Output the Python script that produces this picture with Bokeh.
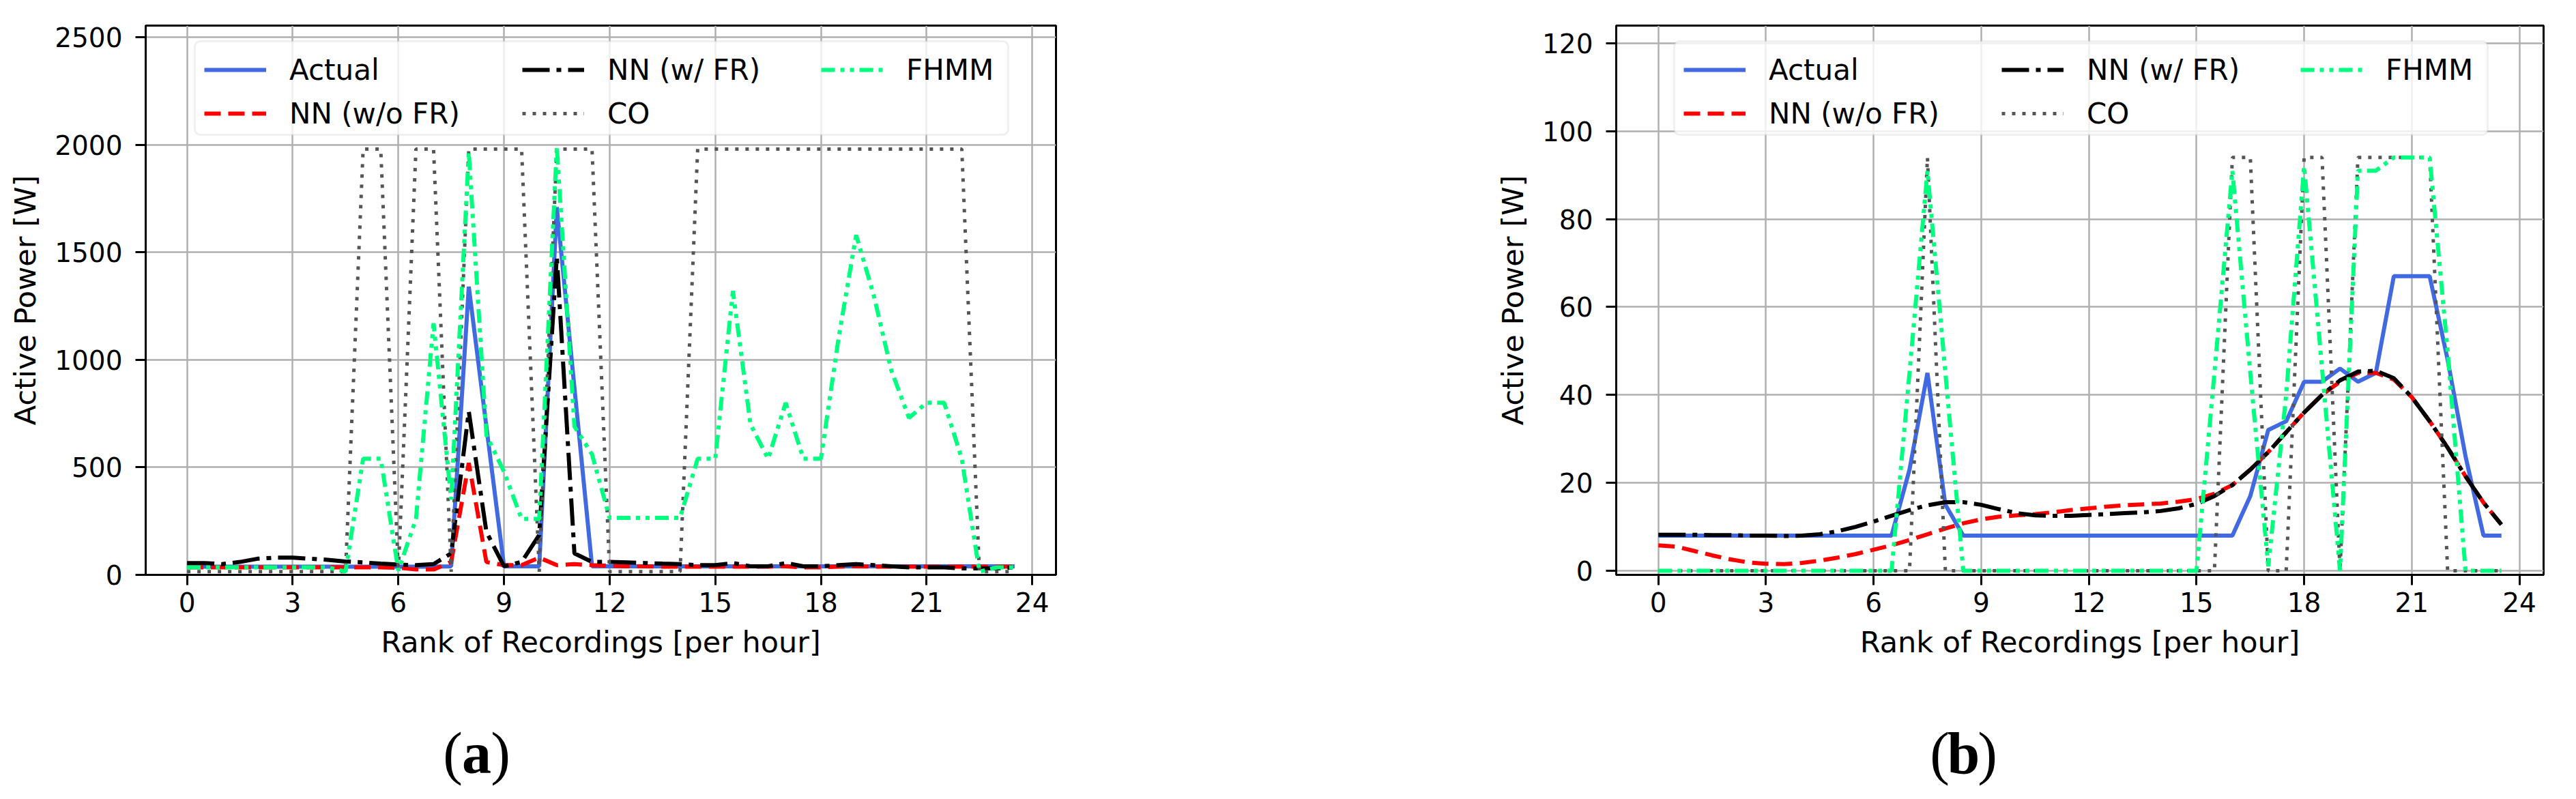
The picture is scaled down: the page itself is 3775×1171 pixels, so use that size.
from bokeh.plotting import figure
from bokeh.layouts import row, column
from bokeh.models import FixedTicker, Legend, LegendItem, BoxAnnotation, Range1d
from bokeh.core.properties import value
from bokeh.embed import file_html
from bokeh.resources import INLINE

# ---------------- data ----------------
hours = [0, 0.5, 1, 1.5, 2, 2.5, 3, 3.5, 4, 4.5, 5, 5.5, 6, 6.5, 7, 7.5,
         8, 8.5, 9, 9.5, 10, 10.5, 11, 11.5, 12, 12.5, 13, 13.5, 14, 14.5, 15, 15.5,
         16, 16.5, 17, 17.5, 18, 18.5, 19, 19.5, 20, 20.5, 21, 21.5, 22, 22.5, 23, 23.5]

series_names = ["Actual", "NN (w/o FR)", "NN (w/ FR)", "CO", "FHMM"]
panel_letters = ["a", "b"]

# panel (a)
a_actual = [38, 38, 38, 38, 38, 38, 38, 38, 38, 38,
            38, 38, 38, 38, 38, 40, 1340, 690, 40, 40,
            40, 1710, 870, 40, 40, 40, 40, 40, 40, 40,
            40, 40, 40, 40, 40, 40, 40, 40, 40, 40,
            40, 40, 40, 40, 40, 40, 40, 40]
a_nn_wo = [35, 35, 35, 35, 35, 35, 35, 35, 35, 35,
           35, 35, 33, 25, 25, 60, 520, 60, 45, 45,
           80, 45, 50, 45, 42, 40, 40, 38, 38, 38,
           38, 38, 38, 38, 40, 35, 35, 38, 40, 38,
           38, 38, 38, 38, 38, 38, 38, 38]
a_nn_w = [55, 55, 50, 60, 75, 80, 80, 75, 70, 62,
          58, 52, 48, 45, 50, 100, 760, 200, 40, 60,
          185, 1480, 100, 60, 60, 58, 55, 52, 50, 45,
          45, 55, 40, 40, 55, 40, 40, 45, 50, 45,
          40, 35, 35, 35, 30, 30, 30, 35]
a_co = [15, 15, 15, 15, 15, 15, 15, 15, 15, 15,
        1980, 1980, 15, 1980, 1980, 15, 1980, 1980, 1980, 1980,
        15, 1980, 1980, 1980, 15, 15, 15, 15, 15, 1980,
        1980, 1980, 1980, 1980, 1980, 1980, 1980, 1980, 1980, 1980,
        1980, 1980, 1980, 1980, 1980, 15, 15, 15]
a_fhmm = [35, 35, 35, 35, 35, 35, 35, 35, 35, 15,
          540, 540, 20, 260, 1170, 350, 1965, 650, 480, 260,
          260, 1990, 690, 560, 265, 265, 265, 265, 265, 540,
          540, 1320, 700, 540, 800, 540, 540, 1100, 1580, 1300,
          950, 730, 800, 800, 540, 15, 35, 35]

# panel (b)
b_actual = [8, 8, 8, 8, 8, 8, 8, 8, 8, 8,
            8, 8, 8, 8, 23, 45, 15, 8, 8, 8,
            8, 8, 8, 8, 8, 8, 8, 8, 8, 8,
            8, 8, 8, 17, 32, 34, 43, 43, 46, 43,
            45, 67, 67, 67, 48, 26, 8, 8]
b_nn_wo = [5.8, 5.5, 4.5, 3.5, 2.6, 1.9, 1.6, 1.5, 1.8, 2.3,
           3.0, 3.8, 4.8, 5.8, 7.0, 8.3, 9.6, 10.8, 11.7, 12.3,
           12.6, 12.9, 13.3, 13.8, 14.2, 14.6, 14.9, 15.1, 15.3, 15.7,
           16.3, 17.5, 19.5, 23.0, 27.0, 31.5, 36.0, 40.0, 43.0, 45.0,
           45.0, 43.5, 39.5, 34.0, 28.0, 21.5, 15.5, 10.5]
b_nn_w = [8.2, 8.2, 8.2, 8.1, 8.1, 8.0, 8.0, 7.9, 8.0, 8.3,
          9.0, 10.0, 11.2, 12.5, 13.8, 14.9, 15.6, 15.6, 15.0, 14.0,
          13.1, 12.6, 12.5, 12.5, 12.7, 12.9, 13.1, 13.3, 13.6, 14.2,
          15.2, 17.0, 19.5, 23.0, 27.0, 31.5, 36.0, 40.0, 43.3, 45.3,
          45.5, 43.8, 39.5, 34.0, 28.0, 21.5, 15.5, 10.5]
b_co = [0, 0, 0, 0, 0, 0, 0, 0, 0, 0,
        0, 0, 0, 0, 0, 94, 0, 0, 0, 0,
        0, 0, 0, 0, 0, 0, 0, 0, 0, 0,
        0, 0, 94, 94, 0, 0, 94, 94, 0, 94,
        94, 94, 94, 94, 0, 0, 0, 0]
b_fhmm = [0, 0, 0, 0, 0, 0, 0, 0, 0, 0,
          0, 0, 0, 0, 45, 91, 45, 0, 0, 0,
          0, 0, 0, 0, 0, 0, 0, 0, 0, 0,
          0, 45, 91, 45, 1, 40, 92, 46, 0, 91,
          91, 94, 94, 94, 50, 0, 0, 0]

x_ticks = [0, 3, 6, 9, 12, 15, 18, 21, 24]
a_y_ticks = [0, 500, 1000, 1500, 2000, 2500]
b_y_ticks = [0, 20, 40, 60, 80, 100, 120]

# ---------------- styling / layout ----------------
STYLES = [
    dict(line_color="#4169e1", line_width=6, line_dash="solid"),
    dict(line_color="#ff0000", line_width=6, line_dash="24 11"),
    dict(line_color="#000000", line_width=6, line_dash="40 10 7 10"),
    dict(line_color="#555555", line_width=5, line_dash="5 10"),
    dict(line_color="#00ff7f", line_width=6, line_dash="20 8 6 8 6 8"),
]
FONT = "DejaVu Sans"
PAGE_W = 3759
PAGE_H = 1155
FIG_H = 1000
CAP_H = PAGE_H - FIG_H
FRAME_H = 805
B_LEFT = 213
B_TOP = 37
B_BOTTOM = FIG_H - B_TOP - FRAME_H

LEG_COLS = [[0, 1], [2, 3], [4]]
LEG_COL_X = [14, 480, 918]
LEG_BOX_W = 1192
LEG_BOX_H = 137
LEG_TOP_GAP = 23
ROW_H = 50
ROW_GAP = 14


def make_panel(series, y_lo, y_hi, y_ticks, frame_w, right_border, box_x):
    p = figure(width=B_LEFT + frame_w + right_border, height=FIG_H,
               output_backend="svg", toolbar_location=None,
               x_range=Range1d(-1.175, 24.675), y_range=Range1d(y_lo, y_hi),
               min_border_left=B_LEFT, min_border_right=right_border,
               min_border_top=B_TOP, min_border_bottom=B_BOTTOM)
    p.background_fill_color = "white"
    p.border_fill_color = "white"
    p.outline_line_color = "black"
    p.outline_line_width = 3
    p.outline_line_alpha = 1

    for g in (p.xgrid, p.ygrid):
        g.grid_line_color = "#b0b0b0"
        g.grid_line_width = 2.5

    p.xaxis.ticker = FixedTicker(ticks=x_ticks)
    p.yaxis.ticker = FixedTicker(ticks=y_ticks)
    p.xaxis.axis_label = "Rank of Recordings [per hour]"
    p.yaxis.axis_label = "Active Power [W]"
    for ax in p.axis:
        ax.major_label_text_font = FONT
        ax.major_label_text_font_size = "39px"
        ax.major_label_text_color = "black"
        ax.axis_label_text_font = FONT
        ax.axis_label_text_font_size = "43px"
        ax.axis_label_text_font_style = "normal"
        ax.axis_label_text_color = "black"
        ax.axis_line_width = 3
        ax.axis_line_color = "black"
        ax.major_tick_line_width = 3
        ax.major_tick_line_color = "black"
        ax.major_tick_out = 15
        ax.major_tick_in = 0
        ax.minor_tick_out = 0
        ax.minor_tick_in = 0
    p.xaxis.major_label_standoff = 10
    p.xaxis.axis_label_standoff = 16
    p.yaxis.major_label_standoff = 19
    p.yaxis.axis_label_standoff = 15

    renderers = []
    for vals, st in zip(series, STYLES):
        renderers.append(p.line(hours, vals, **st))

    # legend frame
    box = BoxAnnotation(left=box_x, right=box_x + LEG_BOX_W,
                        bottom=FRAME_H - LEG_TOP_GAP - LEG_BOX_H, top=FRAME_H - LEG_TOP_GAP,
                        left_units="screen", right_units="screen",
                        top_units="screen", bottom_units="screen",
                        fill_color="white", fill_alpha=0.8,
                        line_color="#cccccc", line_width=3, border_radius=8)
    p.add_layout(box)

    # legend columns (column-major like the original)
    for ci, idxs in enumerate(LEG_COLS):
        n = len(idxs)
        h = n * ROW_H + (n - 1) * ROW_GAP
        items = [LegendItem(label=series_names[i], renderers=[renderers[i]]) for i in idxs]
        lg = Legend(items=items, location=(box_x + LEG_COL_X[ci], FRAME_H - 40 - h),
                    orientation="vertical", padding=0, margin=0, spacing=ROW_GAP,
                    glyph_width=91, glyph_height=ROW_H, label_height=ROW_H,
                    label_standoff=34, label_text_font=FONT, label_text_font_size="42px",
                    label_text_color="black",
                    border_line_alpha=0, background_fill_alpha=0)
        p.add_layout(lg, "center")
    return p


pa = make_panel([a_actual, a_nn_wo, a_nn_w, a_co, a_fhmm], 0, 2554, a_y_ticks,
                1334, 608, 72)
pb = make_panel([b_actual, b_nn_wo, b_nn_w, b_co, b_fhmm], -0.93, 124.0, b_y_ticks,
                1359, 28, 85)

# caption strip "(a)" "(b)" under the panels
cap_centers = [698, 2877]
cap_base = 52
pc = figure(width=PAGE_W, height=CAP_H, output_backend="svg", toolbar_location=None,
            x_range=Range1d(0, PAGE_W), y_range=Range1d(0, CAP_H),
            x_axis_location=None, y_axis_location=None,
            min_border=0, min_border_left=0, min_border_right=0,
            min_border_top=0, min_border_bottom=0)
pc.outline_line_color = None
pc.grid.visible = False
pc.background_fill_color = "white"
pc.border_fill_color = "white"

par_x, par_t = [], []
for cx in cap_centers:
    par_x += [cx - 35, cx + 35]
    par_t += ["(", ")"]
pc.text(x=par_x, y=[cap_base] * len(par_x), text=par_t,
        text_font=value("Liberation Serif"), text_font_size=value("86px"),
        text_font_style="normal", text_align="center", text_baseline="alphabetic",
        text_color="black")
pc.text(x=cap_centers, y=[cap_base] * len(cap_centers), text=panel_letters,
        text_font=value("Liberation Serif"), text_font_size=value("86px"),
        text_font_style="bold", text_align="center", text_baseline="alphabetic",
        text_color="black")

layout = column(row(pa, pb, spacing=0), pc, spacing=0)
open("out.html", "w").write(file_html(layout, INLINE, title="Active power"))
